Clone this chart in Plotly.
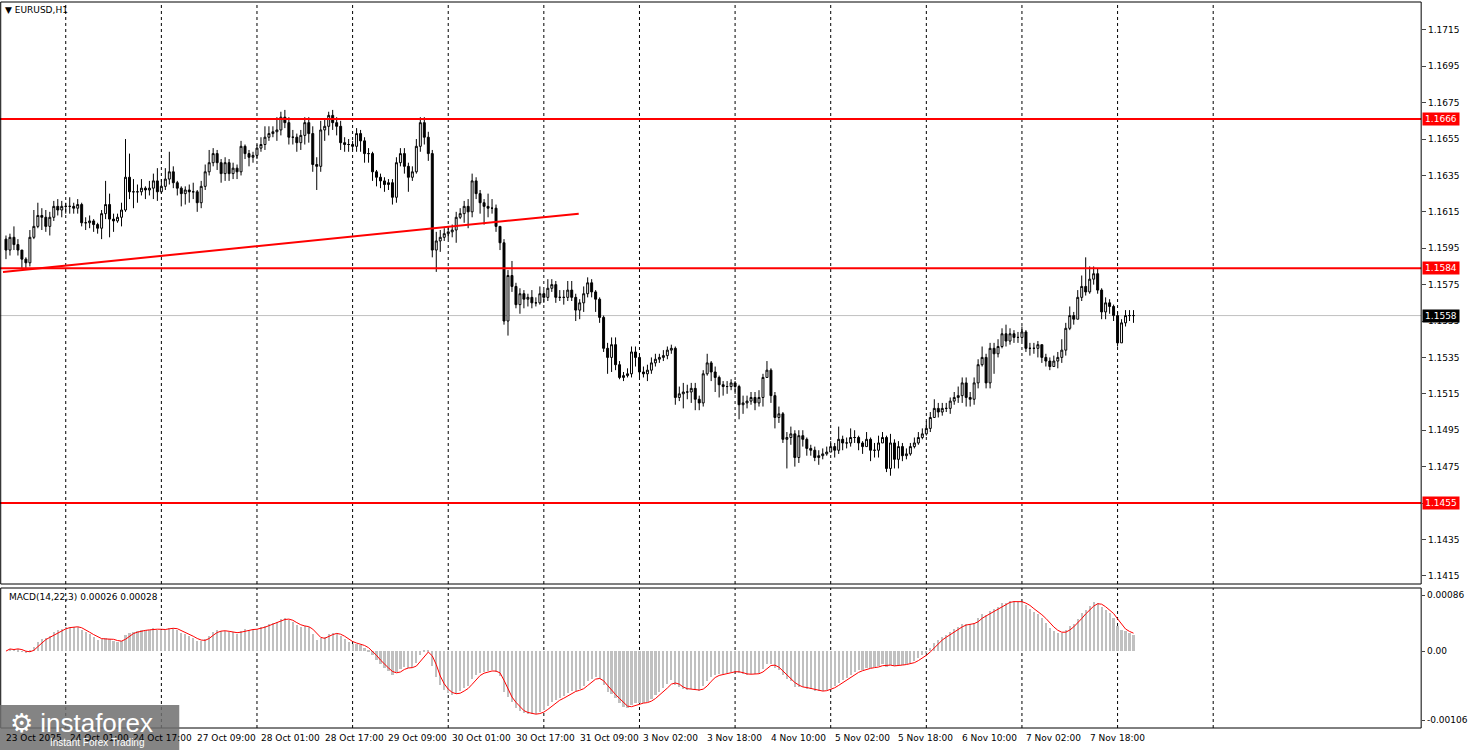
import plotly.graph_objects as go
import numpy as np

close = [1.1594,1.1601,1.1597,1.1594,1.1589,1.1587,1.1601,1.1607,1.1613,1.1612,1.1607,1.1612,1.1618,1.1616,1.1618,1.1618,1.1618,1.1617,1.1619,1.1609,
1.1609,1.1610,1.1608,1.1606,1.1614,1.1619,1.1611,1.1610,1.1612,1.1616,1.1634,1.1626,1.1626,1.1626,1.1628,1.1627,1.1628,1.1632,1.1626,1.1629,
1.1633,1.1637,1.1631,1.1628,1.1625,1.1627,1.1626,1.1626,1.1620,1.1629,1.1637,1.1642,1.1647,1.1642,1.1636,1.1642,1.1636,1.1639,1.1637,1.1651,
1.1647,1.1645,1.1646,1.1650,1.1652,1.1656,1.1658,1.1659,1.1660,1.1667,1.1664,1.1656,1.1656,1.1653,1.1657,1.1664,1.1658,1.1641,1.1640,1.1660,
1.1662,1.1668,1.1664,1.1662,1.1653,1.1652,1.1652,1.1651,1.1658,1.1654,1.1647,1.1647,1.1637,1.1634,1.1632,1.1630,1.1631,1.1623,1.1642,1.1647,
1.1640,1.1634,1.1637,1.1651,1.1664,1.1656,1.1647,1.1594,1.1599,1.1601,1.1603,1.1604,1.1605,1.1612,1.1614,1.1618,1.1615,1.1632,1.1625,1.1620,
1.1618,1.1617,1.1617,1.1607,1.1598,1.1555,1.1580,1.1574,1.1564,1.1570,1.1567,1.1568,1.1565,1.1565,1.1570,1.1568,1.1573,1.1575,1.1568,1.1568,
1.1568,1.1572,1.1568,1.1561,1.1565,1.1570,1.1576,1.1571,1.1567,1.1557,1.1540,1.1535,1.1542,1.1531,1.1524,1.1525,1.1526,1.1538,1.1535,1.1527,
1.1526,1.1528,1.1532,1.1534,1.1535,1.1536,1.1539,1.1540,1.1513,1.1515,1.1516,1.1516,1.1518,1.1512,1.1510,1.1526,1.1532,1.1527,1.1524,1.1520,
1.1519,1.1519,1.1521,1.1519,1.1509,1.1510,1.1511,1.1513,1.1510,1.1513,1.1524,1.1528,1.1514,1.1502,1.1504,1.1490,1.1491,1.1493,1.1480,1.1492,
1.1490,1.1485,1.1484,1.1480,1.1481,1.1482,1.1483,1.1486,1.1484,1.1490,1.1488,1.1488,1.1491,1.1491,1.1488,1.1486,1.1490,1.1484,1.1484,1.1488,
1.1491,1.1474,1.1488,1.1479,1.1486,1.1481,1.1482,1.1486,1.1488,1.1491,1.1493,1.1496,1.1502,1.1507,1.1505,1.1507,1.1507,1.1511,1.1513,1.1514,
1.1521,1.1513,1.1512,1.1521,1.1531,1.1535,1.1521,1.1540,1.1537,1.1541,1.1548,1.1544,1.1548,1.1546,1.1546,1.1549,1.1540,1.1540,1.1540,1.1542,
1.1535,1.1533,1.1530,1.1533,1.1535,1.1539,1.1551,1.1558,1.1556,1.1568,1.1574,1.1571,1.1578,1.1581,1.1572,1.1560,1.1565,1.1563,1.1558,1.1543,
1.1554,1.1558,1.1558,1.1558]
high = [1.1602,1.1603,1.1607,1.1600,1.1593,1.1590,1.1605,1.1616,1.1620,1.1617,1.1616,1.1615,1.1621,1.1622,1.1621,1.1620,1.1623,1.1620,1.1622,1.1620,
1.1612,1.1613,1.1611,1.1609,1.1616,1.1632,1.1625,1.1614,1.1614,1.1620,1.1655,1.1647,1.1633,1.1630,1.1633,1.1629,1.1632,1.1636,1.1639,1.1633,
1.1639,1.1648,1.1640,1.1632,1.1629,1.1629,1.1630,1.1631,1.1627,1.1632,1.1641,1.1649,1.1650,1.1649,1.1644,1.1645,1.1644,1.1642,1.1641,1.1654,
1.1652,1.1649,1.1648,1.1652,1.1656,1.1662,1.1662,1.1662,1.1667,1.1670,1.1671,1.1667,1.1660,1.1658,1.1660,1.1667,1.1667,1.1662,1.1645,1.1665,
1.1666,1.1670,1.1671,1.1667,1.1665,1.1656,1.1655,1.1654,1.1661,1.1660,1.1656,1.1650,1.1648,1.1638,1.1636,1.1634,1.1633,1.1633,1.1645,1.1650,
1.1650,1.1642,1.1640,1.1655,1.1667,1.1667,1.1659,1.1649,1.1604,1.1605,1.1606,1.1607,1.1608,1.1615,1.1617,1.1621,1.1622,1.1636,1.1634,1.1627,
1.1622,1.1625,1.1622,1.1619,1.1606,1.1600,1.1583,1.1588,1.1576,1.1573,1.1572,1.1570,1.1572,1.1568,1.1574,1.1572,1.1578,1.1578,1.1577,1.1572,
1.1572,1.1577,1.1577,1.1570,1.1567,1.1574,1.1579,1.1578,1.1572,1.1568,1.1558,1.1543,1.1546,1.1546,1.1533,1.1527,1.1529,1.1541,1.1541,1.1537,
1.1530,1.1531,1.1535,1.1537,1.1537,1.1539,1.1541,1.1542,1.1541,1.1519,1.1521,1.1520,1.1521,1.1521,1.1514,1.1528,1.1537,1.1533,1.1530,1.1525,
1.1522,1.1522,1.1523,1.1522,1.1520,1.1514,1.1514,1.1516,1.1516,1.1517,1.1526,1.1533,1.1529,1.1516,1.1508,1.1505,1.1494,1.1497,1.1495,1.1495,
1.1495,1.1491,1.1487,1.1486,1.1484,1.1485,1.1486,1.1489,1.1488,1.1497,1.1492,1.1491,1.1496,1.1495,1.1492,1.1489,1.1494,1.1491,1.1488,1.1492,
1.1494,1.1492,1.1493,1.1490,1.1489,1.1488,1.1485,1.1488,1.1491,1.1494,1.1496,1.1500,1.1505,1.1512,1.1510,1.1510,1.1510,1.1513,1.1516,1.1519,
1.1524,1.1524,1.1516,1.1524,1.1534,1.1541,1.1537,1.1543,1.1543,1.1545,1.1551,1.1553,1.1551,1.1550,1.1549,1.1552,1.1550,1.1543,1.1543,1.1544,
1.1542,1.1537,1.1535,1.1536,1.1538,1.1545,1.1554,1.1563,1.1560,1.1572,1.1580,1.1590,1.1585,1.1585,1.1584,1.1573,1.1568,1.1567,1.1564,1.1560,
1.1556,1.1561,1.1561,1.1561]
low = [1.1589,1.1591,1.1594,1.1591,1.1584,1.1584,1.1585,1.1600,1.1606,1.1605,1.1604,1.1602,1.1610,1.1613,1.1612,1.1614,1.1614,1.1614,1.1614,1.1607,
1.1605,1.1606,1.1604,1.1603,1.1600,1.1611,1.1601,1.1604,1.1609,1.1607,1.1615,1.1622,1.1617,1.1620,1.1624,1.1622,1.1624,1.1622,1.1621,1.1625,
1.1627,1.1630,1.1628,1.1624,1.1618,1.1619,1.1620,1.1622,1.1615,1.1617,1.1627,1.1635,1.1640,1.1638,1.1631,1.1632,1.1632,1.1633,1.1633,1.1635,
1.1644,1.1640,1.1642,1.1644,1.1648,1.1649,1.1654,1.1656,1.1654,1.1657,1.1661,1.1652,1.1652,1.1648,1.1649,1.1652,1.1653,1.1637,1.1627,1.1637,
1.1654,1.1657,1.1660,1.1657,1.1649,1.1648,1.1648,1.1649,1.1648,1.1648,1.1642,1.1642,1.1632,1.1629,1.1628,1.1626,1.1627,1.1619,1.1620,1.1640,
1.1636,1.1626,1.1632,1.1636,1.1648,1.1652,1.1643,1.1590,1.1582,1.1593,1.1599,1.1600,1.1601,1.1598,1.1611,1.1609,1.1606,1.1612,1.1622,1.1614,
1.1608,1.1612,1.1614,1.1604,1.1594,1.1553,1.1547,1.1571,1.1562,1.1559,1.1562,1.1563,1.1562,1.1563,1.1564,1.1565,1.1566,1.1571,1.1565,1.1566,
1.1564,1.1566,1.1566,1.1555,1.1556,1.1560,1.1568,1.1568,1.1560,1.1554,1.1538,1.1526,1.1527,1.1528,1.1523,1.1522,1.1524,1.1524,1.1530,1.1524,
1.1524,1.1522,1.1526,1.1530,1.1532,1.1533,1.1534,1.1537,1.1509,1.1511,1.1507,1.1512,1.1510,1.1506,1.1506,1.1508,1.1525,1.1522,1.1516,1.1513,
1.1514,1.1515,1.1517,1.1515,1.1501,1.1504,1.1507,1.1509,1.1506,1.1508,1.1508,1.1524,1.1510,1.1496,1.1499,1.1488,1.1474,1.1487,1.1475,1.1477,
1.1486,1.1481,1.1481,1.1478,1.1476,1.1479,1.1481,1.1483,1.1480,1.1482,1.1484,1.1485,1.1486,1.1488,1.1484,1.1482,1.1486,1.1478,1.1480,1.1480,
1.1488,1.1472,1.1470,1.1474,1.1474,1.1478,1.1479,1.1481,1.1485,1.1487,1.1490,1.1492,1.1494,1.1502,1.1502,1.1503,1.1505,1.1504,1.1509,1.1510,
1.1510,1.1508,1.1508,1.1509,1.1518,1.1530,1.1518,1.1518,1.1526,1.1535,1.1540,1.1541,1.1542,1.1543,1.1543,1.1544,1.1538,1.1536,1.1537,1.1535,
1.1532,1.1530,1.1528,1.1530,1.1529,1.1532,1.1536,1.1550,1.1553,1.1556,1.1566,1.1569,1.1570,1.1575,1.1570,1.1556,1.1556,1.1559,1.1555,1.1541,
1.1543,1.1552,1.1555,1.1554]
first_open = 1.1600

tick_labels = ["23 Oct 2025","24 Oct 01:00","24 Oct 17:00","27 Oct 09:00","28 Oct 01:00","28 Oct 17:00",
               "29 Oct 09:00","30 Oct 01:00","30 Oct 17:00","31 Oct 09:00","3 Nov 02:00","3 Nov 18:00",
               "4 Nov 10:00","5 Nov 02:00","5 Nov 18:00","6 Nov 10:00","7 Nov 02:00","7 Nov 18:00"]
price_ticks = ["1.1415","1.1435","1.1455","1.1475","1.1495","1.1515","1.1535","1.1555",
               "1.1575","1.1595","1.1615","1.1635","1.1655","1.1675","1.1695","1.1715"]
levels = [1.1666, 1.1584, 1.1455]
current_price = 1.1558
trend_start = (-0.75, 1.1582)
trend_end = (143.75, 1.1614)
macd_fast, macd_slow, macd_sig = 14, 22, 3

n = len(close)
x = np.arange(n)
c = np.array(close)
o = np.concatenate([[first_open], c[:-1]])
h = np.maximum(np.array(high), np.maximum(o, c))
l = np.minimum(np.array(low), np.minimum(o, c))

def ema(a, p):
    k = 2/(p+1); out = np.empty_like(a); out[0] = a[0]
    for i in range(1, len(a)):
        out[i] = a[i]*k + out[i-1]*(1-k)
    return out
macd = ema(c, macd_fast) - ema(c, macd_slow)
sig = np.convolve(macd, np.ones(macd_sig)/macd_sig, mode="full")[:n]
sig[:macd_sig-1] = macd[:macd_sig-1]

W, H = 1468, 750
plot_r = 1427
fig = go.Figure()
fig.add_trace(go.Candlestick(x=x, open=o, high=h, low=l, close=c, xaxis="x", yaxis="y",
    increasing=dict(line=dict(color="black", width=1), fillcolor="white"),
    decreasing=dict(line=dict(color="black", width=1), fillcolor="black"),
    whiskerwidth=0, showlegend=False, hoverinfo="skip"))
fig.add_trace(go.Bar(x=x, y=macd, marker=dict(color="#c0c0c0", line=dict(width=0)), width=0.55,
    xaxis="x", yaxis="y2", showlegend=False))
fig.add_trace(go.Scatter(x=x, y=sig, mode="lines", line=dict(color="red", width=1),
    xaxis="x", yaxis="y2", showlegend=False))

xr = [-1.5, 355.2]
dom_x = [0, plot_r/W]
dom_main = [(H-584)/H, (H-2)/H]
dom_macd = [(H-728)/H, (H-588)/H]
font = "DejaVu Sans"
fig.update_layout(
    width=W, height=H, margin=dict(l=0, r=0, t=0, b=0),
    paper_bgcolor="white", plot_bgcolor="white", bargap=0,
    font=dict(family=font, size=9, color="black"),
    xaxis=dict(domain=dom_x, range=xr, showgrid=False, showticklabels=False, rangeslider=dict(visible=False),
               anchor="y2", zeroline=False),
    yaxis=dict(domain=dom_main, range=[1.14105, 1.17303], side="right", anchor="x",
               tickvals=[float(t) for t in price_ticks], ticktext=price_ticks,
               ticks="outside", ticklen=4, showgrid=False, zeroline=False, tickfont=dict(size=9)),
    yaxis2=dict(domain=dom_macd, range=[-0.00118, 0.000968], side="right", anchor="x",
                tickvals=[0.00086, 0.0, -0.00106], ticktext=["0.00086", "0.00", "-0.00106"],
                ticks="outside", ticklen=3, showgrid=False, zeroline=False, tickfont=dict(size=9)),
)
shapes = []
for k in range(13):
    xi = 15 + 24*k
    for dom in ("y", "y2"):
        shapes.append(dict(type="line", xref="x", yref=f"{dom} domain", x0=xi, x1=xi, y0=0, y1=1,
                           line=dict(color="black", width=1, dash="dot"), layer="below"))
for lv in levels:
    shapes.append(dict(type="line", xref="paper", yref="y", x0=0, x1=dom_x[1], y0=lv, y1=lv,
                       line=dict(color="red", width=2)))
shapes.append(dict(type="line", xref="paper", yref="y", x0=0, x1=dom_x[1], y0=current_price, y1=current_price,
                   line=dict(color="#c0c0c0", width=1), layer="below"))
shapes.append(dict(type="line", xref="x", yref="y", x0=trend_start[0], y0=trend_start[1], x1=trend_end[0], y1=trend_end[1],
                   line=dict(color="red", width=2)))
for dom in (dom_main, dom_macd):
    shapes.append(dict(type="rect", xref="paper", yref="paper", x0=0.0005, x1=dom_x[1], y0=dom[0], y1=dom[1],
                       line=dict(color="black", width=1)))
shapes.append(dict(type="rect", xref="paper", yref="paper", x0=0, x1=180/W, y0=0, y1=45/H,
                   fillcolor="rgba(110,110,110,0.85)", line=dict(width=0)))
fig.update_layout(shapes=shapes)

ann = []
for k, t in enumerate(tick_labels):
    ann.append(dict(xref="x", yref="paper", x=16*k-0.5, y=(H-731)/H, text=t, showarrow=False,
                    xanchor="left", yanchor="top", font=dict(size=9)))
for lv, bg in [(1.1666, "red"), (1.1584, "red"), (1.1455, "red"), (current_price, "black")]:
    ann.append(dict(xref="paper", yref="y", x=(plot_r+1)/W, y=lv, text=f"{lv:.4f}", showarrow=False,
                    xanchor="left", yanchor="middle", bgcolor=bg, font=dict(color="white", size=9),
                    borderpad=1, width=34))
ann.append(dict(xref="paper", yref="paper", x=3/W, y=(H-3)/H, text="▼ EURUSD,H1", showarrow=False,
                xanchor="left", yanchor="top", font=dict(size=9)))
ann.append(dict(xref="paper", yref="paper", x=7/W, y=(H-590)/H, text="MACD(14,22,3) 0.00026 0.00028",
                showarrow=False, xanchor="left", yanchor="top", font=dict(size=9)))
ann.append(dict(xref="paper", yref="paper", x=8/W, y=(H-706)/H, text="⚙ instaforex", showarrow=False,
                xanchor="left", yanchor="top", font=dict(size=26, color="white", family="Liberation Sans")))
ann.append(dict(xref="paper", yref="paper", x=48/W, y=(H-735)/H, text="Instant Forex Trading", showarrow=False,
                xanchor="left", yanchor="top", font=dict(size=10, color="white", family="Liberation Sans")))
fig.update_layout(annotations=ann)
fig.write_html("out.html", config={"displayModeBar": False},
               post_script="document.body.style.margin='0';document.body.style.overflow='hidden';")
